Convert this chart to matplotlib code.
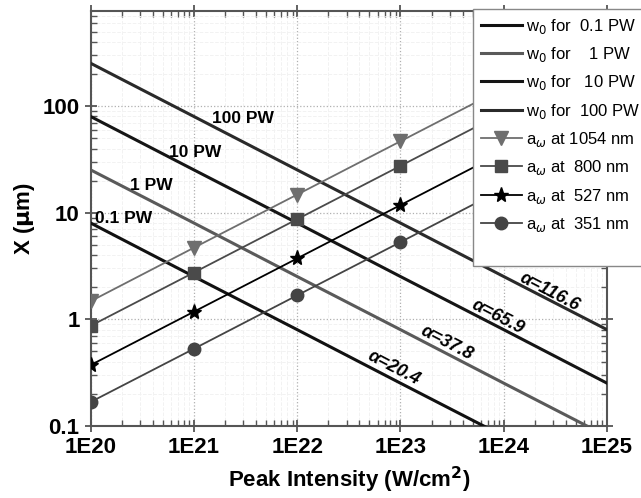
import matplotlib
matplotlib.use("Agg")
import matplotlib.pyplot as plt
from matplotlib.lines import Line2D
from matplotlib.ticker import FixedLocator, FuncFormatter, LogLocator, NullFormatter
import numpy as np

plt.rcParams['font.family'] = ['Liberation Sans', 'DejaVu Sans']

# peak intensity (W/cm^2)
intensity = [1e20, 1e21, 1e22, 1e23, 1e24, 1e25]

# spot radius w0 (um) for each power
power_labels = ['0.1', '1', '10', '100']
w0_01 = [8.0, 2.52, 0.80, 0.252, 0.080, 0.0252]
w0_1 = [25.2, 8.0, 2.52, 0.80, 0.252, 0.080]
w0_10 = [79.8, 25.2, 8.0, 2.52, 0.80, 0.252]
w0_100 = [252, 79.8, 25.2, 8.0, 2.52, 0.80]

# a_omega (um) for each wavelength, markers only at the first four intensities
wavelengths = ['1054', '800', '527', '351']
a_1054 = [1.48, 4.7, 14.8, 46.8, 148, 468]
a_800 = [0.87, 2.75, 8.7, 27.5, 87, 275]
a_527 = [0.373, 1.18, 3.73, 11.8, 37.3, 118]
a_351 = [0.168, 0.53, 1.68, 5.3, 16.8, 53]

alpha_labels = ['α=20.4', 'α=37.8', 'α=65.9', 'α=116.6']
alpha_pos = [(8.5e22, 0.35), (2.8e23, 0.6), (8.7e23, 1.05), (2.8e24, 1.8)]
pw_pos = [(2.1e20, 8.9), (3.9e20, 18), (1.02e21, 37), (3.0e21, 77)]

fig = plt.figure(figsize=(6.41, 4.98), dpi=100)
ax = fig.add_axes([0.1415, 0.1446, 0.8055, 0.8334])

w0_colors = ['#111111', '#5a5a5a', '#151515', '#2a2a2a']
handles = []
for vals, col, p in zip([w0_01, w0_1, w0_10, w0_100], w0_colors, power_labels):
    h, = ax.plot(intensity, vals, color=col, lw=2.2, zorder=3)
    handles.append((h, 'w$_0$ for %s PW' % p.rjust(4)))

a_styles = [('v', '#6e6e6e', 10), ('s', '#4a4a4a', 8), ('*', '#000000', 11), ('o', '#444444', 9)]
for vals, (mk, col, ms), wl in zip([a_1054, a_800, a_527, a_351], a_styles, wavelengths):
    h, = ax.plot(intensity, vals, color=col, lw=1.3, marker=mk, ms=ms,
                 markevery=[0, 1, 2, 3], zorder=4)
    handles.append((h, 'a$_\\omega$ at %s nm' % wl.rjust(4)))

for (x, y), p in zip(pw_pos, power_labels):
    ax.text(x, y, p + ' PW', fontsize=12.5, fontweight='bold', ha='center', va='center', zorder=5)
for (x, y), t in zip(alpha_pos, alpha_labels):
    ax.text(x, y, t, fontsize=13, fontweight='bold', style='italic', rotation=-27.5,
            ha='center', va='center', rotation_mode='anchor', zorder=5)

ax.set_xscale('log')
ax.set_yscale('log')
ax.set_xlim(1e20, 1e25)
ax.set_ylim(0.1, 780)

ax.xaxis.set_major_locator(FixedLocator(intensity))
ax.xaxis.set_major_formatter(FuncFormatter(lambda v, pos: '1E%d' % round(np.log10(v))))
ax.yaxis.set_major_locator(FixedLocator([0.1, 1, 10, 100]))
ax.yaxis.set_major_formatter(FuncFormatter(lambda v, pos: '%g' % v))
for axis in (ax.xaxis, ax.yaxis):
    axis.set_minor_locator(LogLocator(base=10, subs=np.arange(2, 10)))
    axis.set_minor_formatter(NullFormatter())

ax.tick_params(which='major', direction='inout', length=8, width=1.3, color='#555555',
               top=True, right=True, labelsize=16, pad=4)
ax.tick_params(which='minor', direction='in', length=4, width=1.0, color='#555555',
               top=True, right=True)
for lab in ax.get_xticklabels() + ax.get_yticklabels():
    lab.set_fontweight('bold')
for s in ax.spines.values():
    s.set_color('#555555')
    s.set_linewidth(1.5)

ax.grid(which='major', ls=':', color='#b0b0b0', lw=0.9)
ax.grid(which='minor', ls='--', color='#f2f2f2', lw=0.7)
ax.set_axisbelow(True)

ax.set_xlabel('Peak Intensity (W/cm$^\\mathbf{2}$)', fontsize=16, fontweight='bold', labelpad=5)
ax.set_ylabel('X ($\\mathbf{\\mu}$m)', fontsize=16, fontweight='bold', labelpad=4)

blank = Line2D([], [], color='none')
leg = ax.legend([h for h, _ in handles] + [blank], [t for _, t in handles] + [' '],
                loc='upper left', bbox_to_anchor=(473 / 641, 1 - 9 / 498),
                bbox_transform=fig.transFigure, fontsize=12, frameon=True,
                fancybox=False, framealpha=1, edgecolor='#888888',
                handlelength=2.5, labelspacing=0.56, borderaxespad=0, borderpad=0.45,
                handletextpad=0.25)
leg.get_frame().set_linewidth(1.0)
leg.set_zorder(10)

fig.savefig('out.png', dpi=100)
